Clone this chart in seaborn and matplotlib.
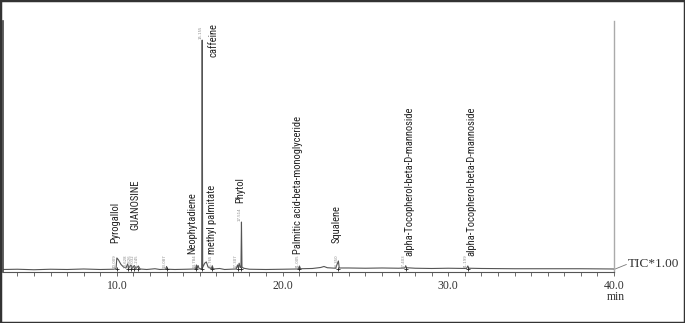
import numpy as np
import pandas as pd
import matplotlib
matplotlib.use("Agg")
import matplotlib.pyplot as plt
from matplotlib import font_manager
from matplotlib.patches import Rectangle
import seaborn as sns

# ---------------- data ----------------
trace_time = [3.1, 4.0, 5.0, 6.0, 7.0, 8.0, 9.0, 9.8, 9.95, 10.0, 10.1, 10.25, 10.4,
              10.55, 10.65, 10.72, 10.85, 10.95, 11.05, 11.15, 11.3, 11.4, 11.8, 12.3,
              12.6, 12.95, 13.0, 13.05, 13.5, 14.2, 14.75, 14.8, 14.85, 14.9, 14.97,
              15.12, 15.15, 15.18, 15.3, 15.4, 15.5, 15.7, 15.76, 15.82, 16.2, 16.5,
              17.2, 17.28, 17.33, 17.38, 17.44, 17.49, 17.52, 17.55, 17.65, 18.0, 19.0,
              20.0, 20.95, 21.02, 21.08, 21.8, 22.3, 22.5, 22.7, 23.2, 23.37, 23.42,
              24.0, 25.0, 26.0, 27.0, 27.38, 27.43, 27.48, 28.0, 29.0, 30.0, 31.1,
              31.18, 31.24, 32.0, 34.0, 36.0, 38.0, 40.0]
trace_signal = [1.0, 1.1, 0.9, 1.1, 1.0, 1.2, 1.0, 1.1, 1.3, 5.6, 4.8, 3.0, 2.0,
                1.6, 3.2, 1.6, 2.8, 1.5, 2.6, 1.4, 2.4, 1.2, 1.0, 1.3,
                1.0, 1.1, 2.2, 1.1, 1.0, 1.1, 1.2, 2.8, 1.4, 2.6, 1.3,
                1.3, 92.4, 1.8, 3.5, 4.0, 2.0, 1.3, 2.5, 1.2, 1.4, 1.0,
                1.2, 2.8, 1.6, 3.5, 1.8, 1.8, 19.9, 2.0, 1.5, 1.1, 1.0,
                1.1, 1.2, 2.4, 1.3, 1.4, 1.8, 2.2, 1.7, 1.5, 4.4, 1.6,
                1.6, 1.5, 1.6, 1.5, 1.6, 2.5, 1.7, 1.5, 1.4, 1.5, 1.4,
                2.4, 1.5, 1.4, 1.3, 1.3, 1.3, 1.2]

rt_times = [10.0, 10.65, 10.85, 11.05, 11.3, 13.0, 14.8, 15.15, 15.76, 17.3, 17.52,
            21.02, 23.37, 27.43, 31.18]
rt_heights = [5.6, 3.2, 2.8, 2.6, 2.4, 2.2, 2.8, 92.4, 2.5, 2.8, 19.9,
              2.4, 4.4, 2.5, 2.4]
rt_labels = ["10.009", "10.628", "10.826", "11.032", "11.245", "13.087", "14.784",
             "15.155", "15.765", "17.307", "17.514", "21.005", "23.350", "27.403", "31.199"]

compound_names = ["Pyrogallol", "GUANOSINE", "Neophytadiene", "caffeine",
                  "methyl palmitate", "Phytol", "Palmitic acid-beta-monoglyceride",
                  "Squalene", "alpha-Tocopherol-beta-D-mannoside",
                  "alpha-Tocopherol-beta-D-mannoside"]
compound_x = [9.88, 11.09, 14.55, 15.85, 15.73, 17.45, 20.92, 23.27, 27.66, 31.39]
compound_y = [11.6, 16.7, 7.2, 85.7, 7.2, 27.5, 7.2, 11.6, 6.2, 6.2]

x_major = [10, 20, 30, 40]
x_major_labels = ["10.0", "20.0", "30.0", "40.0"]

# ---------------- styling ----------------
sns.set_theme(style="white")
avail = {f.name for f in font_manager.fontManager.ttflist}
narrow = None
for cand in ["Liberation Sans Narrow", "Roboto Condensed", "DejaVu Sans Condensed"]:
    if cand in avail:
        narrow = cand
        break
name_family = [narrow, "DejaVu Sans"] if narrow else ["Roboto", "DejaVu Sans"]
serif_family = ["Liberation Serif", "DejaVu Serif"]
plt.rcParams["font.family"] = ["DejaVu Sans"]

fig = plt.figure(figsize=(6.85, 3.23), dpi=100)
ax = fig.add_axes([2.5 / 685, (323 - 272) / 323, (614 - 2.5) / 685, (272 - 21) / 323])

df = pd.DataFrame({"time": trace_time, "signal": trace_signal})
sns.lineplot(data=df, x="time", y="signal", ax=ax, color="#555555", lw=0.8,
             estimator=None, sort=False)

# small integration marks at the labelled peaks
marks = pd.DataFrame({"time": rt_times, "signal": [1.3] * len(rt_times)})
sns.scatterplot(data=marks, x="time", y="signal", ax=ax, marker="+", s=10,
                color="#222222", linewidth=0.6, zorder=3)

ax.set_xlim(3.1, 40)
ax.set_ylim(0, 100)
ax.set_xlabel("")
ax.set_ylabel("")
ax.set_yticks([])

ax.set_xticks(x_major)
ax.set_xticklabels(x_major_labels, fontfamily=serif_family, fontsize=8.5, color="#333333")
ax.set_xticks(np.arange(4, 41, 1), minor=True)
ax.tick_params(axis="x", which="both", direction="out", length=3, width=0.6,
               color="#555555", pad=3, bottom=True)

ax.spines["top"].set_visible(False)
ax.spines["left"].set_color("#444444")
ax.spines["left"].set_linewidth(1.2)
ax.spines["right"].set_color("#aaaaaa")
ax.spines["right"].set_linewidth(1.0)
ax.spines["bottom"].set_color("#555555")
ax.spines["bottom"].set_linewidth(0.8)

# retention-time labels
for t, h, lab in zip(rt_times, rt_heights, rt_labels):
    base = h + 0.5 if h > 10 else 1.6
    ax.text(t - 0.11, base, lab, rotation=90, ha="center", va="bottom",
            fontsize=2.8, color="#888888")

# compound names
for t, y, lab in zip(compound_x, compound_y, compound_names):
    ax.text(t, y, lab, rotation=90, ha="center", va="bottom",
            fontsize=7.6, family=name_family, color="#222222")

# TIC label with connector
ax.plot([40, 40.75], [1.0, 3.0], color="#777777", lw=0.6, clip_on=False)
ax.text(40.85, 3.2, "TIC*1.00", ha="left", va="center", fontsize=9.5,
        family=serif_family, color="#333333", clip_on=False)
fig.text(616 / 685, 1 - 297 / 323, "min", ha="center", va="center",
         fontsize=8.5, family=serif_family, color="#333333")

# outer frame
fig.patches.append(Rectangle((0, 0), 1, 1, transform=fig.transFigure, fill=False,
                             edgecolor="#333333", lw=2.5))

fig.savefig("out.png", dpi=100)
